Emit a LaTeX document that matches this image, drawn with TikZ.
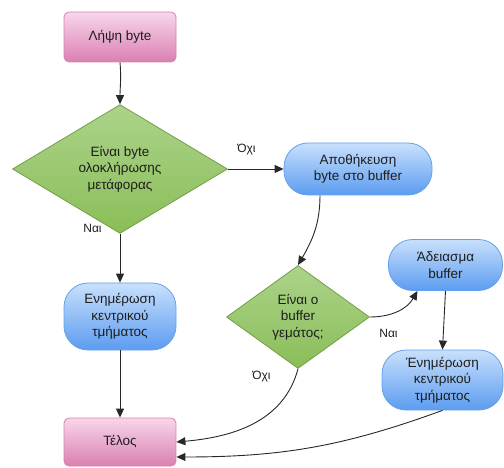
\documentclass[tikz,border=0pt]{standalone}
\usepackage{fontspec}
\setmainfont{Liberation Sans}
\usetikzlibrary{shapes.geometric,arrows.meta}

\definecolor{pinktop}{RGB}{248,214,234}
\definecolor{pinkbot}{RGB}{218,128,178}
\definecolor{pinkline}{RGB}{214,130,178}
\definecolor{bluetop}{RGB}{200,224,252}
\definecolor{bluebot}{RGB}{92,156,240}
\definecolor{blueline}{RGB}{100,160,236}
\definecolor{greentop}{RGB}{172,211,138}
\definecolor{greenbot}{RGB}{138,190,88}
\definecolor{greenline}{RGB}{112,160,70}
\definecolor{ink}{RGB}{30,30,30}
\definecolor{wire}{RGB}{40,40,40}

\tikzset{
  boxtext/.style={align=center, text=ink, font=\fontsize{13.5}{16.5}\selectfont, inner sep=0pt},
  pinkbox/.style={boxtext, draw=pinkline, line width=0.8pt, rounded corners=5pt,
    top color=pinktop, bottom color=pinkbot},
  bluebox/.style={boxtext, draw=blueline, line width=0.8pt, rounded corners=24pt,
    top color=bluetop, bottom color=bluebot},
  decision/.style={boxtext, diamond, draw=greenline, line width=0.8pt,
    top color=greentop, bottom color=greenbot},
  flow/.style={draw=wire, line width=0.9pt, -{Triangle[length=9pt,width=8pt]}},
  tag/.style={text=ink, font=\fontsize{12}{14}\selectfont, inner sep=0pt}
}

\begin{document}
\begin{tikzpicture}[x=1pt,y=1pt]
  \useasboundingbox (0,0) rectangle (504,-468);

  % process and decision nodes
  \node[pinkbox, minimum width=112pt, minimum height=50pt] (recv) at (120,-37) {Λήψη byte};
  \node[decision, minimum width=215pt, minimum height=102pt] (isend) at (120,-169)
    {Είναι byte\\ολοκλήρωσης\\μετάφορας};
  \node[bluebox, minimum width=148pt, minimum height=52pt] (store) at (358,-169)
    {Αποθήκευση\\byte στο buffer};
  \node[decision, minimum width=143pt, minimum height=103pt] (isfull) at (298,-317)
    {Είναι ο\\buffer\\γεμάτος;};
  \node[bluebox, minimum width=114pt, minimum height=51pt] (flush) at (445.5,-265)
    {Άδειασμα\\buffer};
  \node[bluebox, minimum width=121pt, minimum height=60pt] (updR) at (442.5,-380)
    {Ένημέρωση\\κεντρικού\\τμήματος};
  \node[bluebox, minimum width=112pt, minimum height=67pt] (updL) at (120,-316.5)
    {Ενημέρωση\\κεντρικού\\τμήματος};
  \node[pinkbox, minimum width=112pt, minimum height=48pt] (done) at (120,-442) {Τέλος};

  % branch labels
  \node[tag] (noA)  at (246.5,-150) {Όχι};
  \node[tag] (yesA) at (92.5,-228) {Ναι};
  \node[tag] (yesB) at (388.5,-333) {Ναι};
  \node[tag] (noB)  at (261.5,-377) {Όχι};

  % connectors
  \draw[flow] (recv.south) to[out=-85,in=90] (isend.north);
  \draw[flow] (isend.east) -- (store.west);
  \draw[flow] ([xshift=-38pt]store.south) to[out=-90,in=60] (isfull.north);
  \draw[flow] (isfull.east) to[out=0,in=-120] ([xshift=-28pt]flush.south);
  \draw[flow] (flush.south) -- (updR.north);
  \draw[flow] (isend.south) -- (updL.north);
  \draw[flow] (updL.south) -- (done.north);
  \draw[flow] (isfull.south) to[out=-105,in=5] (done.east);
  \draw[flow] (updR.south) to[out=-160,in=0] ([yshift=-15pt]done.east);
\end{tikzpicture}
\end{document}
